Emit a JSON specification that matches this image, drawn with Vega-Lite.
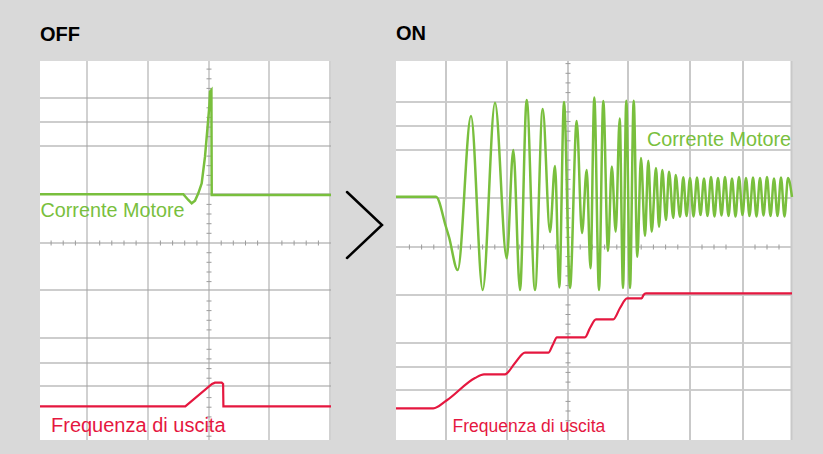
{
  "$schema": "https://vega.github.io/schema/vega-lite/v6.json",
  "background": "#d9d9d9",
  "padding": {"left": 35, "top": 24, "right": 31, "bottom": 14},
  "spacing": 0,
  "bounds": "flush",
  "config": {
    "view": {"stroke": null},
    "title": {"font": "Liberation Sans", "fontSize": 20, "fontWeight": "bold", "color": "#000000", "anchor": "start", "baseline": "alphabetic", "offset": 16, "dx": 5},
    "text": {"font": "Liberation Sans"}
  },
  "datasets": {
    "off_hgrid": [{"y": 342}, {"y": 318}, {"y": 294}, {"y": 246}, {"y": 197}, {"y": 150}, {"y": 102}, {"y": 77}, {"y": 54}],
    "off_vgrid": [{"x": 47}, {"x": 108}, {"x": 169}, {"x": 229}, {"x": 290}],
    "off_ticks_v": [
      {"x": 169, "y": 206.7}, {"x": 169, "y": 216.3}, {"x": 169, "y": 226}, {"x": 169, "y": 235.6}, {"x": 169, "y": 255}, {"x": 169, "y": 264.6}, {"x": 169, "y": 274.3}, {"x": 169, "y": 283.9}, {"x": 169, "y": 303.3}, {"x": 169, "y": 312.9}, {"x": 169, "y": 322.6}, {"x": 169, "y": 332.2}, {"x": 169, "y": 351.6}, {"x": 169, "y": 361.2}, {"x": 169, "y": 370.9},
      {"x": 169, "y": 187.3}, {"x": 169, "y": 177.7}, {"x": 169, "y": 168}, {"x": 169, "y": 158.4}, {"x": 169, "y": 139}, {"x": 169, "y": 129.4}, {"x": 169, "y": 119.7}, {"x": 169, "y": 110.1}, {"x": 169, "y": 90.7}, {"x": 169, "y": 81.1}, {"x": 169, "y": 71.4}, {"x": 169, "y": 61.8}, {"x": 169, "y": 42.4}, {"x": 169, "y": 32.8}, {"x": 169, "y": 23.1}, {"x": 169, "y": 13.5}, {"x": 169, "y": 3.8}
    ],
    "off_ticks_h": [
      {"x": 156.9, "y": 197}, {"x": 144.7, "y": 197}, {"x": 132.6, "y": 197}, {"x": 120.4, "y": 197}, {"x": 96.1, "y": 197}, {"x": 84, "y": 197}, {"x": 71.8, "y": 197}, {"x": 59.7, "y": 197}, {"x": 35.4, "y": 197}, {"x": 23.2, "y": 197}, {"x": 11.1, "y": 197},
      {"x": 181.2, "y": 197}, {"x": 193.3, "y": 197}, {"x": 205.5, "y": 197}, {"x": 217.6, "y": 197}, {"x": 241.9, "y": 197}, {"x": 254.1, "y": 197}, {"x": 266.2, "y": 197}, {"x": 278.4, "y": 197}
    ],
    "off_current": [
      {"t": 0, "v": 245.7}, {"t": 143.3, "v": 245.7}, {"t": 148.3, "v": 240}, {"t": 151.7, "v": 236.7}, {"t": 155, "v": 239.3}, {"t": 158.3, "v": 246.7}, {"t": 161.7, "v": 256.7}, {"t": 165, "v": 283.3}, {"t": 167.3, "v": 310}, {"t": 169.3, "v": 333.3}, {"t": 170, "v": 348.3}, {"t": 171.4, "v": 350}, {"t": 171.7, "v": 245}, {"t": 291, "v": 245}
    ],
    "off_freq": [
      {"t": 0, "v": 33.7}, {"t": 145.3, "v": 33.7}, {"t": 172, "v": 56}, {"t": 175, "v": 57.3}, {"t": 181.7, "v": 57.3}, {"t": 183.1, "v": 56}, {"t": 183.4, "v": 33.7}, {"t": 291, "v": 33.7}
    ],
    "chevron": [{"i": 0, "x": 16, "y": 248}, {"i": 1, "x": 51, "y": 215}, {"i": 2, "x": 16, "y": 182}],
    "on_hgrid": [{"y": 338}, {"y": 314}, {"y": 290}, {"y": 242}, {"y": 193}, {"y": 145}, {"y": 97}, {"y": 73}, {"y": 50}],
    "on_vgrid": [{"x": 50}, {"x": 111}, {"x": 172}, {"x": 232}, {"x": 294}, {"x": 347}, {"x": 395.5}],
    "on_ticks_v": [
      {"x": 172, "y": 202.7}, {"x": 172, "y": 212.3}, {"x": 172, "y": 222}, {"x": 172, "y": 231.6}, {"x": 172, "y": 250.9}, {"x": 172, "y": 260.6}, {"x": 172, "y": 270.2}, {"x": 172, "y": 279.9}, {"x": 172, "y": 299.2}, {"x": 172, "y": 308.8}, {"x": 172, "y": 318.5}, {"x": 172, "y": 328.1}, {"x": 172, "y": 347.4}, {"x": 172, "y": 357.1}, {"x": 172, "y": 366.7}, {"x": 172, "y": 376.4},
      {"x": 172, "y": 183.4}, {"x": 172, "y": 173.7}, {"x": 172, "y": 164.1}, {"x": 172, "y": 154.4}, {"x": 172, "y": 135.1}, {"x": 172, "y": 125.5}, {"x": 172, "y": 115.8}, {"x": 172, "y": 106.2}, {"x": 172, "y": 86.9}, {"x": 172, "y": 77.2}, {"x": 172, "y": 67.6}, {"x": 172, "y": 57.9}, {"x": 172, "y": 38.6}, {"x": 172, "y": 29}, {"x": 172, "y": 19.3}, {"x": 172, "y": 9.7}
    ],
    "on_ticks_h": [
      {"x": 159.8, "y": 193}, {"x": 147.6, "y": 193}, {"x": 135.4, "y": 193}, {"x": 123.2, "y": 193}, {"x": 98.8, "y": 193}, {"x": 86.6, "y": 193}, {"x": 74.4, "y": 193}, {"x": 62.2, "y": 193}, {"x": 37.8, "y": 193}, {"x": 25.6, "y": 193}, {"x": 13.4, "y": 193},
      {"x": 184.2, "y": 193}, {"x": 196.4, "y": 193}, {"x": 208.6, "y": 193}, {"x": 220.8, "y": 193}, {"x": 245.2, "y": 193}, {"x": 257.4, "y": 193}, {"x": 269.6, "y": 193}, {"x": 281.8, "y": 193}, {"x": 306, "y": 193}, {"x": 318, "y": 193}, {"x": 330, "y": 193}, {"x": 359, "y": 193}, {"x": 371, "y": 193}, {"x": 383, "y": 193}
    ],
    "on_current": [
      {"t": 0, "v": 243.3}, {"t": 40, "v": 243.3}, {"t": 50, "v": 213}, {"t": 53, "v": 203}, {"t": 61.7, "v": 170}, {"t": 75, "v": 324}, {"t": 86.7, "v": 150}, {"t": 99, "v": 337.3}, {"t": 110.7, "v": 181.7}, {"t": 117.3, "v": 290}, {"t": 124, "v": 150}, {"t": 130.7, "v": 340}, {"t": 139, "v": 150}, {"t": 146.7, "v": 331}, {"t": 154, "v": 208}, {"t": 159, "v": 274}, {"t": 163.3, "v": 152.5}, {"t": 168, "v": 338}, {"t": 174, "v": 152}, {"t": 180.7, "v": 319}, {"t": 186, "v": 207}, {"t": 190.7, "v": 270}, {"t": 194.5, "v": 171.7}, {"t": 198.3, "v": 342.5}, {"t": 203, "v": 150}, {"t": 207.3, "v": 339}, {"t": 212, "v": 189}, {"t": 215.8, "v": 273.5}, {"t": 219.7, "v": 208.3}, {"t": 223.7, "v": 321.5}, {"t": 227, "v": 152}, {"t": 230.3, "v": 339.3}, {"t": 234, "v": 152}, {"t": 237.7, "v": 339.3}, {"t": 241.3, "v": 183.3}, {"t": 245, "v": 282}, {"t": 249, "v": 204}, {"t": 252.3, "v": 279.3}, {"t": 255.7, "v": 208.3}, {"t": 260, "v": 272}, {"t": 263, "v": 213.3}, {"t": 266.3, "v": 270}, {"t": 270, "v": 220}, {"t": 273, "v": 268.3}, {"t": 277.3, "v": 222}, {"t": 279.7, "v": 265}, {"t": 284, "v": 223.3}, {"t": 287.3, "v": 262.7},
      {"t": 290.5, "v": 224}, {"t": 294, "v": 262}, {"t": 297.5, "v": 223.5}, {"t": 301, "v": 262.5}, {"t": 304.5, "v": 225}, {"t": 308, "v": 261.5}, {"t": 311.5, "v": 224}, {"t": 315, "v": 263}, {"t": 318.5, "v": 223.5}, {"t": 322, "v": 262}, {"t": 325.5, "v": 224.5}, {"t": 329, "v": 263}, {"t": 332.5, "v": 224}, {"t": 336, "v": 261.5}, {"t": 339.5, "v": 223.5}, {"t": 343, "v": 263}, {"t": 346.5, "v": 225}, {"t": 350, "v": 262}, {"t": 353.5, "v": 224}, {"t": 357, "v": 262.5}, {"t": 360.5, "v": 223.5}, {"t": 364, "v": 262}, {"t": 367.5, "v": 224.5}, {"t": 371, "v": 263}, {"t": 374.5, "v": 224}, {"t": 378, "v": 261.5}, {"t": 381.5, "v": 224}, {"t": 385, "v": 262.5}, {"t": 388.5, "v": 223.5}, {"t": 392, "v": 262}, {"t": 396, "v": 243}
    ],
    "on_freq": [
      {"t": 0, "v": 31.7}, {"t": 37.3, "v": 31.7}, {"t": 50.5, "v": 39.5}, {"t": 79, "v": 62}, {"t": 88, "v": 65.7}, {"t": 109, "v": 65.7}, {"t": 119, "v": 77}, {"t": 129, "v": 87.3}, {"t": 152.3, "v": 87.3}, {"t": 156.7, "v": 95}, {"t": 161, "v": 102.7}, {"t": 189, "v": 102.7}, {"t": 194, "v": 112}, {"t": 200, "v": 120.7}, {"t": 217.3, "v": 120.7}, {"t": 224, "v": 132}, {"t": 231, "v": 141.7}, {"t": 245.7, "v": 141.7}, {"t": 247.5, "v": 145}, {"t": 250, "v": 146.7}, {"t": 396, "v": 146.7}
    ]
  },
  "hconcat": [
    {
      "width": 291,
      "height": 379,
      "title": "OFF",
      "view": {"fill": "white", "stroke": null},
      "layer": [
        {
          "data": {"name": "off_hgrid"},
          "mark": {"type": "rule", "color": "#9b9b9b", "strokeWidth": 1},
          "encoding": {"y": {"field": "y", "type": "quantitative", "scale": {"domain": [0, 379], "nice": false, "zero": false}, "axis": null}}
        },
        {
          "data": {"name": "off_vgrid"},
          "mark": {"type": "rule", "color": "#a3a3a3", "strokeWidth": 1},
          "encoding": {"x": {"field": "x", "type": "quantitative", "scale": {"domain": [0, 291], "nice": false, "zero": false}, "axis": null}}
        },
        {
          "data": {"name": "off_ticks_v"},
          "mark": {"type": "tick", "orient": "horizontal", "size": 5, "thickness": 1, "color": "#9b9b9b", "opacity": 1},
          "encoding": {
            "x": {"field": "x", "type": "quantitative", "scale": {"domain": [0, 291], "nice": false, "zero": false}, "axis": null},
            "y": {"field": "y", "type": "quantitative", "scale": {"domain": [0, 379], "nice": false, "zero": false}, "axis": null}
          }
        },
        {
          "data": {"name": "off_ticks_h"},
          "mark": {"type": "tick", "orient": "vertical", "size": 5, "thickness": 1, "color": "#9b9b9b", "opacity": 1},
          "encoding": {
            "x": {"field": "x", "type": "quantitative", "scale": {"domain": [0, 291], "nice": false, "zero": false}, "axis": null},
            "y": {"field": "y", "type": "quantitative", "scale": {"domain": [0, 379], "nice": false, "zero": false}, "axis": null}
          }
        },
        {
          "data": {"values": [{"x": 0.5, "y": 223, "label": "Corrente Motore"}]},
          "mark": {"type": "text", "align": "left", "baseline": "alphabetic", "fontSize": 19.8, "color": "#79bf3d"},
          "encoding": {
            "x": {"field": "x", "type": "quantitative", "scale": {"domain": [0, 291], "nice": false, "zero": false}, "axis": null},
            "y": {"field": "y", "type": "quantitative", "scale": {"domain": [0, 379], "nice": false, "zero": false}, "axis": null},
            "text": {"field": "label"}
          }
        },
        {
          "data": {"values": [{"x": 11, "y": 7.7, "label": "Frequenza di uscita"}]},
          "mark": {"type": "text", "align": "left", "baseline": "alphabetic", "fontSize": 20, "color": "#e5173f"},
          "encoding": {
            "x": {"field": "x", "type": "quantitative", "scale": {"domain": [0, 291], "nice": false, "zero": false}, "axis": null},
            "y": {"field": "y", "type": "quantitative", "scale": {"domain": [0, 379], "nice": false, "zero": false}, "axis": null},
            "text": {"field": "label"}
          }
        },
        {
          "data": {"name": "off_current"},
          "mark": {"type": "line", "color": "#79bf3d", "strokeWidth": 2.5},
          "encoding": {
            "x": {"field": "t", "type": "quantitative", "scale": {"domain": [0, 291], "nice": false, "zero": false}, "axis": null},
            "y": {"field": "v", "type": "quantitative", "scale": {"domain": [0, 379], "nice": false, "zero": false}, "axis": null}
          }
        },
        {
          "data": {"name": "off_freq"},
          "mark": {"type": "line", "color": "#e5173f", "strokeWidth": 2.2},
          "encoding": {
            "x": {"field": "t", "type": "quantitative", "scale": {"domain": [0, 291], "nice": false, "zero": false}, "axis": null},
            "y": {"field": "v", "type": "quantitative", "scale": {"domain": [0, 379], "nice": false, "zero": false}, "axis": null}
          }
        }
      ]
    },
    {
      "width": 65,
      "height": 379,
      "view": {"fill": null, "stroke": null},
      "data": {"name": "chevron"},
      "mark": {"type": "line", "color": "#000000", "strokeWidth": 2.5, "strokeCap": "round", "strokeJoin": "miter"},
      "encoding": {
        "x": {"field": "x", "type": "quantitative", "scale": {"domain": [0, 65], "nice": false, "zero": false}, "axis": null},
        "y": {"field": "y", "type": "quantitative", "scale": {"domain": [0, 379], "nice": false, "zero": false}, "axis": null},
        "order": {"field": "i"}
      }
    },
    {
      "width": 396,
      "height": 379,
      "title": "ON",
      "view": {"fill": "white", "stroke": null},
      "layer": [
        {
          "data": {"name": "on_hgrid"},
          "mark": {"type": "rule", "color": "#9b9b9b", "strokeWidth": 1},
          "encoding": {"y": {"field": "y", "type": "quantitative", "scale": {"domain": [0, 379], "nice": false, "zero": false}, "axis": null}}
        },
        {
          "data": {"name": "on_vgrid"},
          "mark": {"type": "rule", "color": "#c9c9c9", "strokeWidth": 2},
          "encoding": {"x": {"field": "x", "type": "quantitative", "scale": {"domain": [0, 396], "nice": false, "zero": false}, "axis": null}}
        },
        {
          "data": {"name": "on_ticks_v"},
          "mark": {"type": "tick", "orient": "horizontal", "size": 5, "thickness": 1, "color": "#9b9b9b", "opacity": 1},
          "encoding": {
            "x": {"field": "x", "type": "quantitative", "scale": {"domain": [0, 396], "nice": false, "zero": false}, "axis": null},
            "y": {"field": "y", "type": "quantitative", "scale": {"domain": [0, 379], "nice": false, "zero": false}, "axis": null}
          }
        },
        {
          "data": {"name": "on_ticks_h"},
          "mark": {"type": "tick", "orient": "vertical", "size": 5, "thickness": 1, "color": "#9b9b9b", "opacity": 1},
          "encoding": {
            "x": {"field": "x", "type": "quantitative", "scale": {"domain": [0, 396], "nice": false, "zero": false}, "axis": null},
            "y": {"field": "y", "type": "quantitative", "scale": {"domain": [0, 379], "nice": false, "zero": false}, "axis": null}
          }
        },
        {
          "data": {"values": [{"x": 251, "y": 294.3, "label": "Corrente Motore"}]},
          "mark": {"type": "text", "align": "left", "baseline": "alphabetic", "fontSize": 19.8, "color": "#79bf3d"},
          "encoding": {
            "x": {"field": "x", "type": "quantitative", "scale": {"domain": [0, 396], "nice": false, "zero": false}, "axis": null},
            "y": {"field": "y", "type": "quantitative", "scale": {"domain": [0, 379], "nice": false, "zero": false}, "axis": null},
            "text": {"field": "label"}
          }
        },
        {
          "data": {"values": [{"x": 56.5, "y": 8.3, "label": "Frequenza di uscita"}]},
          "mark": {"type": "text", "align": "left", "baseline": "alphabetic", "fontSize": 17.5, "color": "#e5173f"},
          "encoding": {
            "x": {"field": "x", "type": "quantitative", "scale": {"domain": [0, 396], "nice": false, "zero": false}, "axis": null},
            "y": {"field": "y", "type": "quantitative", "scale": {"domain": [0, 379], "nice": false, "zero": false}, "axis": null},
            "text": {"field": "label"}
          }
        },
        {
          "data": {"name": "on_current"},
          "mark": {"type": "line", "color": "#79bf3d", "strokeWidth": 2.5, "interpolate": "monotone"},
          "encoding": {
            "x": {"field": "t", "type": "quantitative", "scale": {"domain": [0, 396], "nice": false, "zero": false}, "axis": null},
            "y": {"field": "v", "type": "quantitative", "scale": {"domain": [0, 379], "nice": false, "zero": false}, "axis": null}
          }
        },
        {
          "data": {"name": "on_freq"},
          "mark": {"type": "line", "color": "#e5173f", "strokeWidth": 2.2, "interpolate": "monotone"},
          "encoding": {
            "x": {"field": "t", "type": "quantitative", "scale": {"domain": [0, 396], "nice": false, "zero": false}, "axis": null},
            "y": {"field": "v", "type": "quantitative", "scale": {"domain": [0, 379], "nice": false, "zero": false}, "axis": null}
          }
        }
      ]
    }
  ]
}
